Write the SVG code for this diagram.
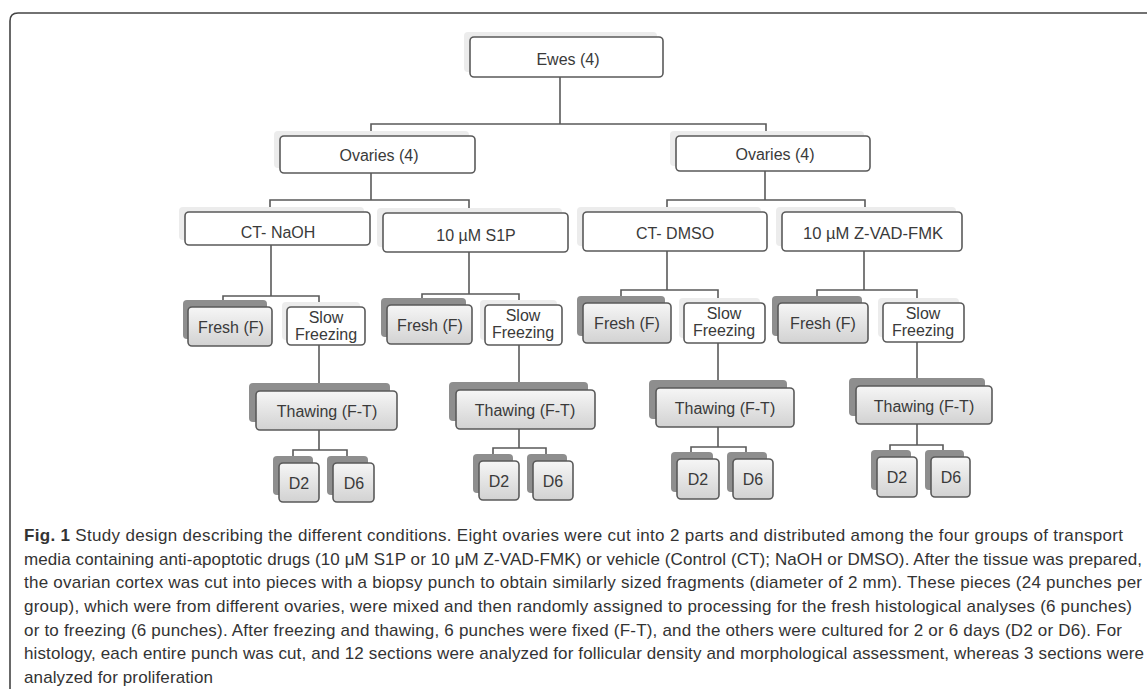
<svg xmlns="http://www.w3.org/2000/svg" width="1147" height="689" viewBox="0 0 1147 689">
<defs>
<linearGradient id="g" x1="0" y1="0" x2="0" y2="1">
<stop offset="0" stop-color="#f6f6f6"/>
<stop offset="1" stop-color="#d2d2d2"/>
</linearGradient>
<style>
.w{fill:#fff;stroke:#5a5a5a;stroke-width:1.6}
.ws{fill:#ececec}
.gb{fill:url(#g);stroke:#5a5a5a;stroke-width:1.6}
.gs{fill:#8e8e8e}
.t{font-family:"Liberation Sans",Arial,sans-serif;font-size:16px;fill:#3a3a3a;text-anchor:middle}
.c{fill:none;stroke:#5a5a5a;stroke-width:1.6}
.cap{font-family:"Liberation Sans",Arial,sans-serif;font-size:17px;fill:#333}
</style>
</defs>
<rect width="1147" height="689" fill="#fff"/>
<path d="M10 689 L10 21 Q10 13 18 13 L1147 13" fill="none" stroke="#444" stroke-width="1.6"/>

<g id="connectors" class="c">
<path d="M560 77 V124 M371 136 V124 H766 V136"/>
<path d="M371 173 V200 M270 212 V200 H469 V213"/>
<path d="M765 171 V200 M667 212 V200 H865 V212"/>
<path d="M271 245 V296 M223 301 V296 H319 V307"/>
<path d="M469 252 V294 M422 299 V294 H519 V305"/>
<path d="M667 251 V290 M621 297 V290 H718 V303"/>
<path d="M864 251 V290 M817 297 V290 H917 V303"/>
<path d="M319 345 V384"/>
<path d="M519 345 V383"/>
<path d="M718 343 V381"/>
<path d="M917 342 V379"/>
<path d="M319 430 V450 M293 457 V450 H347 V457"/>
<path d="M519 429 V448 M493 455 V448 H546 V455"/>
<path d="M718 427 V447 M691 453 V447 H746 V453"/>
<path d="M917 424 V445 M890 451 V445 H943 V451"/>
</g>

<g id="ewes"><rect class="ws" x="464" y="32" width="193" height="40" rx="4"/><rect class="w" x="470" y="37" width="193" height="40" rx="4"/><text class="t" x="568" y="65">Ewes (4)</text></g>
<g id="ovaries-left"><rect class="ws" x="274" y="131" width="195" height="37" rx="4"/><rect class="w" x="280" y="136" width="195" height="37" rx="4"/><text class="t" x="379" y="161">Ovaries (4)</text></g>
<g id="ovaries-right"><rect class="ws" x="670" y="131" width="194" height="35" rx="4"/><rect class="w" x="676" y="136" width="194" height="35" rx="4"/><text class="t" x="775" y="160">Ovaries (4)</text></g>

<g id="ct-naoh"><rect class="ws" x="179" y="207" width="185" height="33" rx="4"/><rect class="w" x="185" y="212" width="185" height="33" rx="4"/><text class="t" x="278" y="238">CT- NaOH</text></g>
<g id="s1p"><rect class="ws" x="377" y="208" width="185" height="39" rx="4"/><rect class="w" x="383" y="213" width="185" height="39" rx="4"/><text class="t" x="476" y="241">10 µM S1P</text></g>
<g id="ct-dmso"><rect class="ws" x="577" y="207" width="184" height="39" rx="4"/><rect class="w" x="583" y="212" width="184" height="39" rx="4"/><text class="t" x="675" y="239">CT- DMSO</text></g>
<g id="zvad"><rect class="ws" x="776" y="207" width="180" height="39" rx="4"/><rect class="w" x="782" y="212" width="180" height="39" rx="4"/><text class="t" x="873" y="239" textLength="140" lengthAdjust="spacingAndGlyphs">10 µM Z-VAD-FMK</text></g>

<g id="fresh-naoh"><rect class="gs" x="183" y="300" width="84" height="39" rx="4"/><rect class="gb" x="188" y="307" width="84" height="39" rx="4"/><text class="t" x="231" y="333">Fresh (F)</text></g>
<g id="slow-naoh"><rect class="ws" x="282" y="302" width="78" height="38" rx="4"/><rect class="w" x="287" y="307" width="78" height="38" rx="4"/><text class="t" x="326" y="323">Slow</text><text class="t" x="326" y="340">Freezing</text></g>
<g id="fresh-s1p"><rect class="gs" x="381" y="298" width="85" height="39" rx="4"/><rect class="gb" x="387" y="305" width="85" height="39" rx="4"/><text class="t" x="430" y="331">Fresh (F)</text></g>
<g id="slow-s1p"><rect class="ws" x="480" y="300" width="77" height="40" rx="4"/><rect class="w" x="485" y="305" width="77" height="40" rx="4"/><text class="t" x="523" y="321">Slow</text><text class="t" x="523" y="338">Freezing</text></g>
<g id="fresh-dmso"><rect class="gs" x="577" y="296" width="88" height="40" rx="4"/><rect class="gb" x="583" y="303" width="88" height="40" rx="4"/><text class="t" x="627" y="329">Fresh (F)</text></g>
<g id="slow-dmso"><rect class="ws" x="679" y="298" width="81" height="40" rx="4"/><rect class="w" x="684" y="303" width="81" height="40" rx="4"/><text class="t" x="724" y="319">Slow</text><text class="t" x="724" y="336">Freezing</text></g>
<g id="fresh-zvad"><rect class="gs" x="772" y="296" width="90" height="40" rx="4"/><rect class="gb" x="778" y="303" width="90" height="40" rx="4"/><text class="t" x="823" y="329">Fresh (F)</text></g>
<g id="slow-zvad"><rect class="ws" x="878" y="298" width="81" height="39" rx="4"/><rect class="w" x="883" y="303" width="81" height="39" rx="4"/><text class="t" x="923" y="319">Slow</text><text class="t" x="923" y="336">Freezing</text></g>

<g id="thaw-naoh"><rect class="gs" x="249" y="383" width="141" height="39" rx="4"/><rect class="gb" x="256" y="391" width="141" height="39" rx="4"/><text class="t" x="327" y="417">Thawing (F-T)</text></g>
<g id="thaw-s1p"><rect class="gs" x="449" y="382" width="139" height="39" rx="4"/><rect class="gb" x="456" y="390" width="139" height="39" rx="4"/><text class="t" x="525" y="416">Thawing (F-T)</text></g>
<g id="thaw-dmso"><rect class="gs" x="649" y="380" width="138" height="39" rx="4"/><rect class="gb" x="656" y="388" width="138" height="39" rx="4"/><text class="t" x="725" y="414">Thawing (F-T)</text></g>
<g id="thaw-zvad"><rect class="gs" x="849" y="378" width="136" height="38" rx="4"/><rect class="gb" x="856" y="386" width="136" height="38" rx="4"/><text class="t" x="924" y="412">Thawing (F-T)</text></g>

<g id="d2-naoh"><rect class="gs" x="273" y="456" width="40" height="39" rx="4"/><rect class="gb" x="279" y="463" width="40" height="39" rx="4"/><text class="t" x="299" y="489">D2</text></g>
<g id="d6-naoh"><rect class="gs" x="327" y="456" width="41" height="39" rx="4"/><rect class="gb" x="333" y="463" width="41" height="39" rx="4"/><text class="t" x="354" y="489">D6</text></g>
<g id="d2-s1p"><rect class="gs" x="473" y="454" width="40" height="39" rx="4"/><rect class="gb" x="479" y="461" width="40" height="39" rx="4"/><text class="t" x="499" y="487">D2</text></g>
<g id="d6-s1p"><rect class="gs" x="527" y="454" width="40" height="39" rx="4"/><rect class="gb" x="533" y="461" width="40" height="39" rx="4"/><text class="t" x="553" y="487">D6</text></g>
<g id="d2-dmso"><rect class="gs" x="671" y="452" width="42" height="40" rx="4"/><rect class="gb" x="677" y="459" width="42" height="40" rx="4"/><text class="t" x="698" y="485">D2</text></g>
<g id="d6-dmso"><rect class="gs" x="727" y="452" width="40" height="40" rx="4"/><rect class="gb" x="733" y="459" width="40" height="40" rx="4"/><text class="t" x="753" y="485">D6</text></g>
<g id="d2-zvad"><rect class="gs" x="871" y="450" width="40" height="40" rx="4"/><rect class="gb" x="877" y="457" width="40" height="40" rx="4"/><text class="t" x="897" y="483">D2</text></g>
<g id="d6-zvad"><rect class="gs" x="925" y="450" width="39" height="40" rx="4"/><rect class="gb" x="931" y="457" width="39" height="40" rx="4"/><text class="t" x="951" y="483">D6</text></g>

<g id="caption" class="cap">
<text x="24" y="541" textLength="1099"><tspan font-weight="bold">Fig. 1</tspan> Study design describing the different conditions. Eight ovaries were cut into 2 parts and distributed among the four groups of transport</text>
<text x="24" y="564.5" textLength="1118">media containing anti-apoptotic drugs (10 μM S1P or 10 μM Z-VAD-FMK) or vehicle (Control (CT); NaOH or DMSO). After the tissue was prepared,</text>
<text x="24" y="588" textLength="1118">the ovarian cortex was cut into pieces with a biopsy punch to obtain similarly sized fragments (diameter of 2 mm). These pieces (24 punches per</text>
<text x="24" y="612" textLength="1108">group), which were from different ovaries, were mixed and then randomly assigned to processing for the fresh histological analyses (6 punches)</text>
<text x="24" y="635.5" textLength="1098">or to freezing (6 punches). After freezing and thawing, 6 punches were fixed (F-T), and the others were cultured for 2 or 6 days (D2 or D6). For</text>
<text x="24" y="659" textLength="1120">histology, each entire punch was cut, and 12 sections were analyzed for follicular density and morphological assessment, whereas 3 sections were</text>
<text x="24" y="683" textLength="189">analyzed for proliferation</text>
</g>
</svg>
